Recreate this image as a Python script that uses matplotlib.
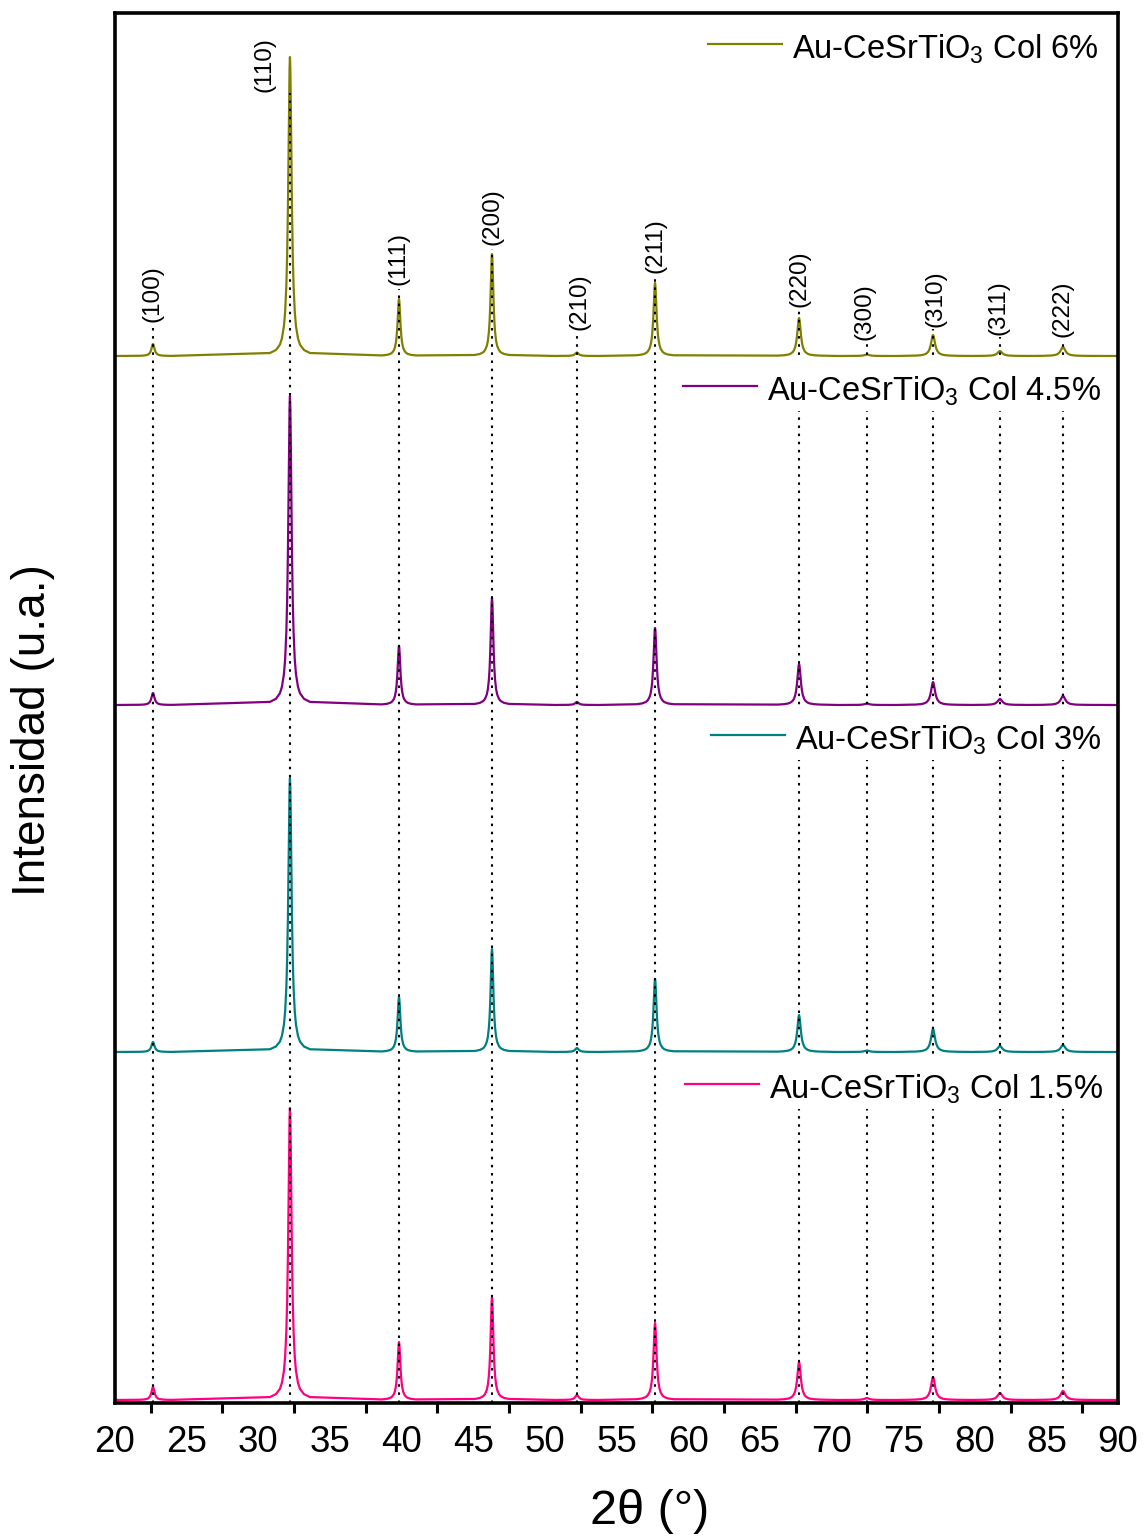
import matplotlib
matplotlib.use('Agg')
import matplotlib.pyplot as plt
from matplotlib.patches import Rectangle
from matplotlib.ticker import MultipleLocator

plt.rcParams['font.family'] = ['Liberation Sans', 'DejaVu Sans']
plt.rcParams['mathtext.fontset'] = 'custom'
plt.rcParams['mathtext.rm'] = 'Liberation Sans'

# reflexiones (hkl) y posiciones 2theta
hkl = ['(100)', '(110)', '(111)', '(200)', '(210)', '(211)',
       '(220)', '(300)', '(310)', '(311)', '(222)']
pos = [22.65, 32.21, 39.82, 46.31, 52.24, 57.69, 67.74, 72.48, 77.09, 81.76, 86.16]
hwhm = [0.13, 0.14, 0.12, 0.12, 0.15, 0.13, 0.15, 0.20, 0.17, 0.20, 0.20]

# intensidad de cada pico (u.a.) por muestra
h_6 = [12, 299, 57, 102, 3.5, 73, 38, 1.5, 21, 5, 9]
h_45 = [12, 309, 59, 107, 3, 77, 41, 1.5, 23, 6, 9]
h_3 = [10, 274, 55, 103, 4, 73, 37, 1.5, 23, 6, 7]
h_15 = [13, 292, 58, 103, 5, 77, 38, 2, 23, 7, 9]

# forma de pico leida (desplazamiento en HWHM, fraccion de altura)
shape_u = [-10, -7, -5, -4, -3, -2.4, -1.8, -1.4, -1, -0.7, -0.4, -0.2, 0,
           0.2, 0.4, 0.7, 1, 1.4, 1.8, 2.4, 3, 4, 5, 7, 10]
shape_f = [0.01, 0.02, 0.038, 0.059, 0.1, 0.148, 0.236, 0.338, 0.5, 0.671, 0.862, 0.962, 1,
           0.962, 0.862, 0.671, 0.5, 0.338, 0.236, 0.148, 0.1, 0.059, 0.038, 0.02, 0.01]

labels = ['Au-CeSrTiO$_3$ Col 6%', 'Au-CeSrTiO$_3$ Col 4.5%',
          'Au-CeSrTiO$_3$ Col 3%', 'Au-CeSrTiO$_3$ Col 1.5%']
offsets = [1047, 698, 351, 3]
colors = ['#808000', '#800080', '#008080', '#ff0080']
alturas = [h_6, h_45, h_3, h_15]

# posicion de etiquetas (hkl): x, y inferior; y tope de linea punteada
lab_x = [22.6, 30.45, 39.8, 46.35, 52.45, 57.7, 67.8, 72.3, 77.25, 81.65, 86.1]
lab_y = [1081, 1311, 1118, 1158, 1073, 1130, 1096, 1063, 1076, 1068, 1066]
top_dot = [1078, 1310, 1114, 1154, 1072, 1126, 1094, 1060, 1074, 1066, 1064]


def perfil(alt, base):
    x = [20.0]
    y = [base]
    for p, w, h in zip(pos, hwhm, alt):
        for u, f in zip(shape_u, shape_f):
            x.append(p + w * u)
            y.append(base + h * f)
    x.append(90.0)
    y.append(base)
    return x, y


fig = plt.figure(figsize=(11.45, 15.38), dpi=100)
ax = fig.add_axes([115 / 1145, 1 - 1403 / 1538, 1003 / 1145, 1390 / 1538])

for alt, base, c in zip(alturas, offsets, colors):
    x, y = perfil(alt, base)
    ax.plot(x, y, color=c, lw=1.6, zorder=2)

for p, t in zip(pos, top_dot):
    ax.plot([p, p], [0, t], color='black', lw=1.5,
            linestyle=(0, (1.2, 2.7)), zorder=3)

for s, lx, ly in zip(hkl, lab_x, lab_y):
    ax.text(lx, ly, s, rotation=90, ha='center', va='bottom', fontsize=17.5, zorder=6)

# leyendas individuales
leg_line = [(61.38, 66.54, 1359), (59.64, 64.80, 1017), (61.59, 66.76, 668), (59.78, 64.94, 319)]
for (x0, x1, yl), s, c in zip(leg_line, labels, colors):
    ax.add_patch(Rectangle((x0 - 0.5, yl - 25), 89.6 - x0, 53,
                           facecolor='white', edgecolor='none', zorder=4))
    ax.plot([x0, x1], [yl, yl], color=c, lw=1.6, zorder=5)
    ax.text(x1 + 0.72, yl - 14, s, fontsize=23.5, ha='left', va='baseline', zorder=6)

ax.set_xlim(20, 90)
ax.set_ylim(0, 1390)
ax.set_yticks([])
ax.xaxis.set_major_locator(MultipleLocator(5))
ax.xaxis.set_minor_locator(MultipleLocator(5, offset=2.5))
ax.tick_params(axis='x', which='major', length=0, labelsize=26.5, pad=16)
ax.tick_params(axis='x', which='minor', direction='out', length=7, width=2.2)
for sp in ax.spines.values():
    sp.set_linewidth(2.6)

fig.text(650 / 1145, 1 - 1512 / 1538, '2θ (°)', fontsize=35, ha='center', va='center')
fig.text(33 / 1145, 1 - 730 / 1538, 'Intensidad (u.a.)', fontsize=33,
         rotation=90, ha='center', va='center')

fig.savefig('out.png', dpi=100)
